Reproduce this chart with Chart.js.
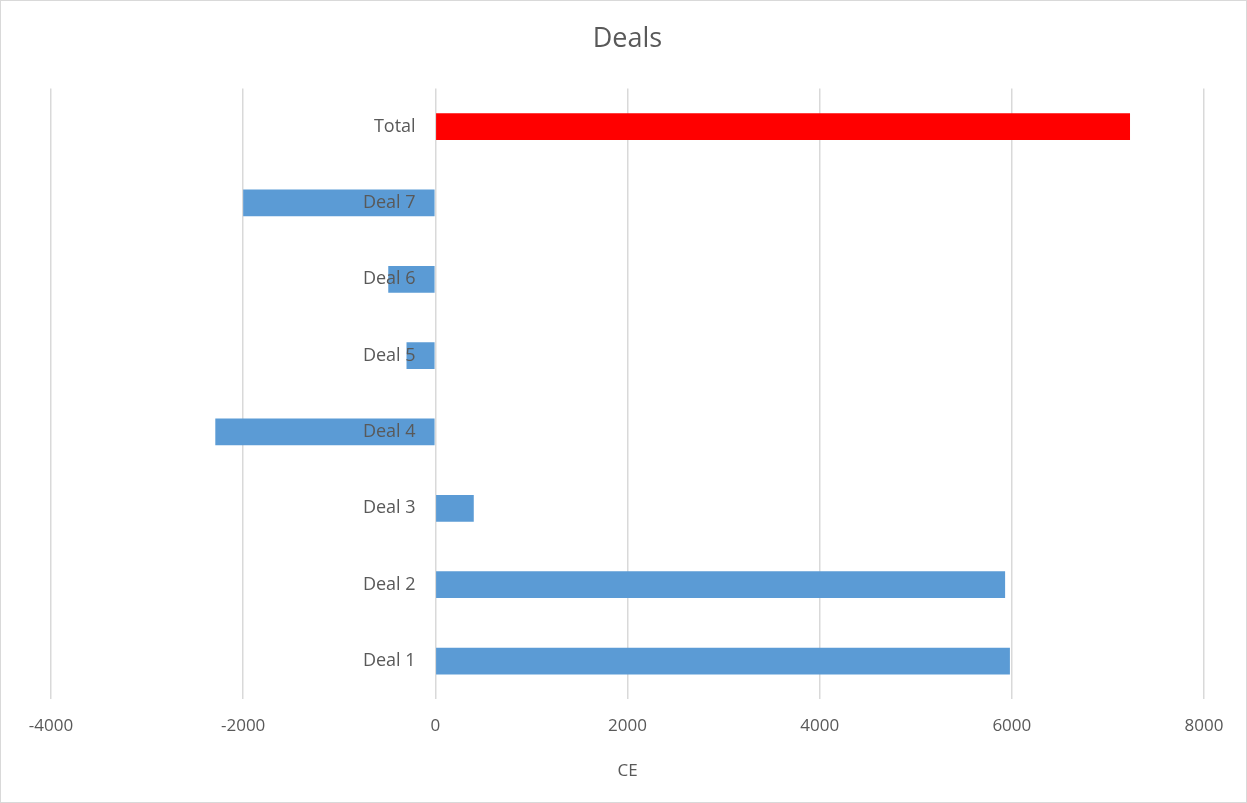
<!DOCTYPE html>
<html>
<head>
<meta charset="utf-8">
<title>Deals</title>
<script src="https://cdn.jsdelivr.net/npm/chart.js@4/dist/chart.umd.min.js"></script>
<style>
  html, body { margin: 0; padding: 0; background: #fff; }
  #wrap {
    width: 1247px;
    height: 803px;
    box-sizing: border-box;
    border: 1px solid #d9d9d9;
    position: relative;
  }
</style>
</head>
<body>
<div id="wrap"><canvas id="dealsChart"></canvas></div>
<script>
// categories listed top to bottom
const categories = ['Total', 'Deal 7', 'Deal 6', 'Deal 5', 'Deal 4', 'Deal 3', 'Deal 2', 'Deal 1'];
const ceValues = [7230, -2000, -490, -300, -2290, 400, 5930, 5980];
const barColors = ['#ff0000', '#5b9bd5', '#5b9bd5', '#5b9bd5', '#5b9bd5', '#5b9bd5', '#5b9bd5', '#5b9bd5'];
const xTicks = [-4000, -2000, 0, 2000, 4000, 6000, 8000];

const textColor = '#595959';
const fontFamily = '"Open Sans", "Noto Sans", sans-serif';

new Chart(document.getElementById('dealsChart'), {
  type: 'bar',
  data: {
    labels: categories,
    datasets: [{
      label: 'CE',
      data: ceValues,
      backgroundColor: barColors,
      borderWidth: 0,
      categoryPercentage: 1,
      barPercentage: 0.35
    }]
  },
  options: {
    indexAxis: 'y',
    responsive: true,
    maintainAspectRatio: false,
    animation: false,
    layout: { padding: { left: 50, right: 42, bottom: 21 } },
    plugins: {
      legend: { display: false },
      tooltip: { enabled: false },
      title: {
        display: true,
        text: 'Deals',
        color: textColor,
        font: { family: fontFamily, size: 27, weight: 'normal' },
        padding: { top: 22, bottom: 33 }
      }
    },
    scales: {
      x: {
        min: -4000,
        max: 8000,
        afterBuildTicks: axis => { axis.ticks = xTicks.map(v => ({ value: v })); },
        grid: { color: '#d9d9d9', lineWidth: 1.5, drawTicks: false },
        border: { display: false },
        ticks: {
          color: textColor,
          padding: 17,
          maxRotation: 0,
          callback: v => String(v),
          font: { family: fontFamily, size: 17 }
        },
        title: {
          display: true,
          text: 'CE',
          color: textColor,
          font: { family: fontFamily, size: 17 },
          padding: { top: 7, bottom: 0 }
        }
      },
      y: {
        // category names sit just left of the zero line, on top of the bars
        position: { x: -205 },
        grid: { display: false, drawTicks: false },
        border: { display: false },
        ticks: {
          z: 1,
          color: textColor,
          font: { family: fontFamily, size: 18 }
        }
      }
    }
  }
});
</script>
</body>
</html>
